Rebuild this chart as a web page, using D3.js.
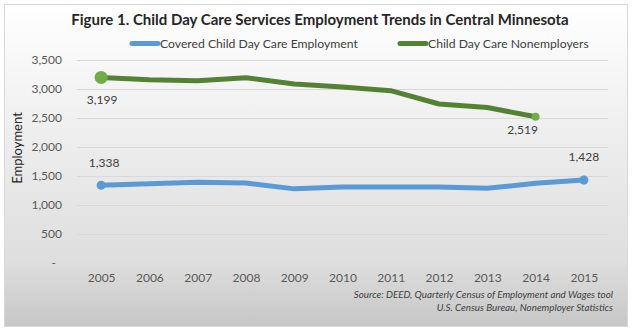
<!DOCTYPE html>
<html>
<head>
<meta charset="utf-8">
<script src="https://cdn.jsdelivr.net/npm/d3@7"></script>
<style>
  body { margin: 0; background: #fff; }
  svg text { font-family: Lato, "Open Sans", sans-serif; }
</style>
</head>
<body>
<div id="chart"></div>
<script>
// data
var years = [2005, 2006, 2007, 2008, 2009, 2010, 2011, 2012, 2013, 2014, 2015]
var covered = [1338, 1365, 1390, 1375, 1275, 1305, 1305, 1305, 1285, 1370, 1428]
var nonemployers = [3199, 3160, 3143, 3195, 3085, 3035, 2970, 2740, 2680, 2519, null]
var yTicks = [0, 500, 1000, 1500, 2000, 2500, 3000, 3500]
var seriesNames = ["Covered Child Day Care Employment", "Child Day Care Nonemployers"]

var W = 636, H = 334
var blue = "#5b9bd5"
var green = "#548235"
var greenDot = "#70ad47"

var svg = d3.select("#chart").append("svg")
  .attr("width", W)
  .attr("height", H)

// background gradient, white at top fading to grey
var grad = svg.append("defs").append("linearGradient")
  .attr("id", "bg")
  .attr("x1", 0).attr("y1", 0).attr("x2", 0).attr("y2", 1)
grad.append("stop").attr("offset", "0%").attr("stop-color", "#ffffff")
grad.append("stop").attr("offset", "45%").attr("stop-color", "#ececec")
grad.append("stop").attr("offset", "80%").attr("stop-color", "#dedede")
grad.append("stop").attr("offset", "100%").attr("stop-color", "#c6c6c6")

svg.append("rect")
  .attr("x", 4.5).attr("y", 4.5)
  .attr("width", 623).attr("height", 322)
  .attr("fill", "url(#bg)")
  .attr("stroke", "#d9d9d9")

var x = d3.scalePoint().domain(years).range([77, 608]).padding(0.5)
var y = d3.scaleLinear().domain([0, 3500]).range([262.7, 60])

// gridlines
svg.append("g").selectAll("line")
  .data(yTicks.filter(function(d) { return d > 0 }))
  .enter().append("line")
  .attr("x1", 77).attr("x2", 608)
  .attr("y1", function(d) { return Math.round(y(d)) + 0.5 })
  .attr("y2", function(d) { return Math.round(y(d)) + 0.5 })
  .attr("stroke", "#d9d9d9")

// axes
var yAxis = d3.axisLeft(y)
  .tickValues(yTicks)
  .tickSize(0)
  .tickPadding(0)
  .tickFormat(function(d) { return d == 0 ? "-" : d3.format(",")(d) })
var gy = svg.append("g").attr("transform", "translate(62,0)").call(yAxis)
gy.select(".domain").remove()
gy.selectAll("text")
  .attr("fill", "#595959")
  .style("font-size", "12px")
gy.selectAll(".tick").filter(function(d) { return d == 0 }).select("text")
  .attr("dx", "-6")

var xAxis = d3.axisBottom(x).tickSize(0).tickPadding(0)
var gx = svg.append("g").attr("transform", "translate(0,273)").call(xAxis)
gx.select(".domain").remove()
gx.selectAll("text")
  .attr("fill", "#595959")
  .style("font-size", "12px")

// lines
var line = d3.line()
  .defined(function(d) { return d[1] != null })
  .x(function(d) { return x(d[0]) })
  .y(function(d) { return y(d[1]) })

svg.append("path")
  .datum(years.map(function(yr, i) { return [yr, covered[i]] }))
  .attr("d", line)
  .attr("fill", "none")
  .attr("stroke", blue)
  .attr("stroke-width", 5)
  .attr("stroke-linejoin", "round")

svg.append("path")
  .datum(years.map(function(yr, i) { return [yr, nonemployers[i]] }))
  .attr("d", line)
  .attr("fill", "none")
  .attr("stroke", green)
  .attr("stroke-width", 5)
  .attr("stroke-linejoin", "round")

// end markers
svg.append("circle").attr("cx", x(2005)).attr("cy", y(covered[0])).attr("r", 4.5).attr("fill", blue)
svg.append("circle").attr("cx", x(2015)).attr("cy", y(covered[10])).attr("r", 4.5).attr("fill", blue)
svg.append("circle").attr("cx", x(2005)).attr("cy", y(nonemployers[0])).attr("r", 6.5).attr("fill", greenDot)
svg.append("circle").attr("cx", x(2014)).attr("cy", y(nonemployers[9])).attr("r", 4).attr("fill", greenDot)

// value labels
var labels = [
  [2005, nonemployers[0], 1, 27],
  [2005, covered[0], 3, -18],
  [2014, nonemployers[9], -13, 17],
  [2015, covered[10], 0, -19]
]
svg.append("g").selectAll("text")
  .data(labels)
  .enter().append("text")
  .attr("x", function(d) { return x(d[0]) + d[2] })
  .attr("y", function(d) { return y(d[1]) + d[3] })
  .attr("text-anchor", "middle")
  .attr("fill", "#404040")
  .style("font-size", "12px")
  .text(function(d) { return d3.format(",")(d[1]) })

// title
svg.append("text")
  .attr("x", 320).attr("y", 25)
  .attr("text-anchor", "middle")
  .attr("fill", "#262626")
  .style("font-size", "15px")
  .style("font-weight", "bold")
  .text("Figure 1. Child Day Care Services Employment Trends in Central Minnesota")

// legend
var legend = [[130, blue, seriesNames[0]], [398, green, seriesNames[1]]]
var lg = svg.append("g").selectAll("g")
  .data(legend)
  .enter().append("g")
  .attr("transform", function(d) { return "translate(" + d[0] + ",43.5)" })
lg.append("line")
  .attr("x1", 2).attr("x2", 28)
  .attr("stroke", function(d) { return d[1] })
  .attr("stroke-width", 5)
  .attr("stroke-linecap", "round")
lg.append("text")
  .attr("x", 30).attr("y", 4.5)
  .attr("fill", "#404040")
  .style("font-size", "12.2px")
  .text(function(d) { return d[2] })

// y axis title
svg.append("text")
  .attr("transform", "translate(22,148) rotate(-90)")
  .attr("text-anchor", "middle")
  .attr("fill", "#262626")
  .style("font-size", "13px")
  .text("Employment")

// source note
svg.append("g").selectAll("text")
  .data(["Source: DEED, Quarterly Census of Employment and Wages tool",
         "U.S. Census Bureau, Nonemployer Statistics"])
  .enter().append("text")
  .attr("x", 613)
  .attr("y", function(d, i) { return 298 + i * 12.5 })
  .attr("text-anchor", "end")
  .attr("fill", "#404040")
  .style("font-size", "9.8px")
  .style("font-style", "italic")
  .text(function(d) { return d })
</script>
</body>
</html>
